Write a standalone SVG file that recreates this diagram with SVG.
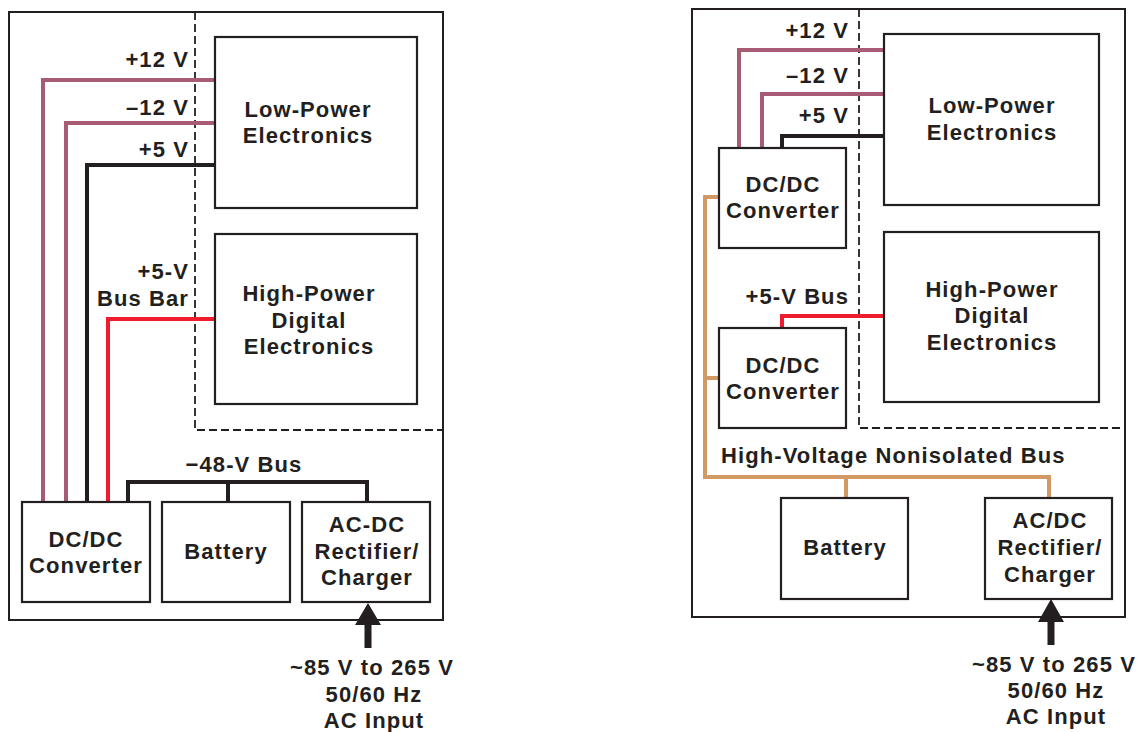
<svg xmlns="http://www.w3.org/2000/svg" width="1140" height="732" viewBox="0 0 1140 732">
<style>
.box{fill:#fff;stroke:#231f20;stroke-width:2.2}
.frame{fill:none;stroke:#231f20;stroke-width:2}
.dash{fill:none;stroke:#231f20;stroke-width:1.8;stroke-dasharray:8 4}
.w{fill:none;stroke-width:4;stroke-linejoin:miter}
.pink{stroke:#a85c74}
.blk{stroke:#231f20}
.red{stroke:#ee1c2e}
.tan{stroke:#d29a62}
text{font-family:"Liberation Sans",Arial,sans-serif;font-weight:bold;font-size:22px;letter-spacing:1.1px;fill:#231f20}
.m{text-anchor:middle}
.e{text-anchor:end}
</style>
<g id="left-frame">
<rect class="frame" x="9" y="12" width="434" height="608"/>
<path class="dash" d="M195 12 V430 H443"/>
</g>
<g id="left-connectors">
<path class="w pink" d="M43 502 V80 H215"/>
<path class="w pink" d="M66 502 V123 H215"/>
<path class="w blk" d="M87 502 V165 H215"/>
<path class="w red" d="M108 502 V319 H215"/>
<path class="w blk" d="M128 502 V482 H367 V502 M228 482 V502"/>
<path fill="#231f20" d="M368 603 L381 625 H371.5 V648 H364.5 V625 H355 Z"/>
</g>
<g id="left-labels">
<text class="e" x="189" y="67">+12 V</text>
<text class="e" x="189" y="115">–12 V</text>
<text class="e" x="189" y="157">+5 V</text>
<text class="e" x="189" y="279">+5-V</text>
<text class="e" x="189" y="306">Bus Bar</text>
<text class="m" x="244" y="472">−48-V Bus</text>
<text class="m" x="372" y="675">~85 V to 265 V</text>
<text class="m" x="374" y="702">50/60 Hz</text>
<text class="m" x="374" y="728">AC Input</text>
</g>
<g id="left-low-power">
<rect class="box" x="215" y="37" width="202" height="171"/>
<text class="m" x="308" y="117">Low-Power</text>
<text class="m" x="308" y="143">Electronics</text>
</g>
<g id="left-high-power">
<rect class="box" x="215" y="234" width="202" height="170"/>
<text class="m" x="309" y="301">High-Power</text>
<text class="m" x="309" y="328">Digital</text>
<text class="m" x="309" y="354">Electronics</text>
</g>
<g id="left-dcdc">
<rect class="box" x="22" y="502" width="128" height="100"/>
<text class="m" x="86" y="547">DC/DC</text>
<text class="m" x="86" y="573">Converter</text>
</g>
<g id="left-battery">
<rect class="box" x="162" y="502" width="128" height="100"/>
<text class="m" x="226" y="559">Battery</text>
</g>
<g id="left-acdc">
<rect class="box" x="302" y="502" width="128" height="100"/>
<text class="m" x="367" y="532">AC-DC</text>
<text class="m" x="367" y="559">Rectifier/</text>
<text class="m" x="367" y="585">Charger</text>
</g>

<g id="right-frame">
<rect class="frame" x="692" y="9" width="433" height="608"/>
<path class="dash" d="M859 9 V428 H1125"/>
</g>
<g id="right-connectors">
<path class="w pink" d="M739 148 V50 H884"/>
<path class="w pink" d="M762 148 V94 H884"/>
<path class="w blk" d="M782 148 V136 H884"/>
<path class="w red" d="M782 328 V316 H884"/>
<path class="w tan" d="M719 197 H705 V477 H1049 V498 M705 378 H719 M846 477 V498"/>
<path fill="#231f20" d="M1051 599 L1064 622 H1054.5 V645 H1047.5 V622 H1038 Z"/>
</g>
<g id="right-labels">
<text class="e" x="849" y="38">+12 V</text>
<text class="e" x="849" y="83">–12 V</text>
<text class="e" x="849" y="123">+5 V</text>
<text class="e" x="849" y="304">+5-V Bus</text>
<text x="721" y="463">High-Voltage Nonisolated Bus</text>
<text class="m" x="1054" y="672">~85 V to 265 V</text>
<text class="m" x="1056" y="698">50/60 Hz</text>
<text class="m" x="1056" y="724">AC Input</text>
</g>
<g id="right-low-power">
<rect class="box" x="884" y="34" width="215" height="171"/>
<text class="m" x="992" y="113">Low-Power</text>
<text class="m" x="992" y="140">Electronics</text>
</g>
<g id="right-high-power">
<rect class="box" x="884" y="232" width="215" height="170"/>
<text class="m" x="992" y="297">High-Power</text>
<text class="m" x="992" y="323">Digital</text>
<text class="m" x="992" y="350">Electronics</text>
</g>
<g id="right-dcdc-1">
<rect class="box" x="719" y="148" width="127" height="100"/>
<text class="m" x="783" y="192">DC/DC</text>
<text class="m" x="783" y="218">Converter</text>
</g>
<g id="right-dcdc-2">
<rect class="box" x="719" y="328" width="127" height="100"/>
<text class="m" x="783" y="373">DC/DC</text>
<text class="m" x="783" y="399">Converter</text>
</g>
<g id="right-battery">
<rect class="box" x="781" y="498" width="127" height="101"/>
<text class="m" x="845" y="555">Battery</text>
</g>
<g id="right-acdc">
<rect class="box" x="985" y="498" width="127" height="101"/>
<text class="m" x="1050" y="528">AC/DC</text>
<text class="m" x="1050" y="555">Rectifier/</text>
<text class="m" x="1050" y="582">Charger</text>
</g>
</svg>
